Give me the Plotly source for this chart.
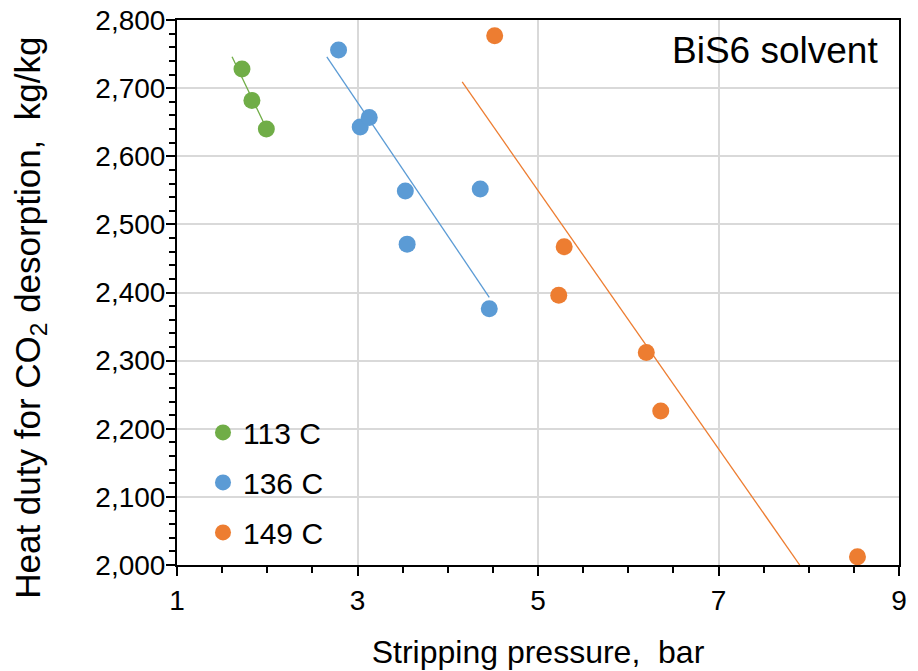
import plotly.graph_objects as go

# ---- data ----
series_names = ["113 C", "136 C", "149 C"]
colors = ["#70AD47", "#5B9BD5", "#ED7D31"]

x_113 = [1.72, 1.83, 1.99]
y_113 = [2728, 2682, 2640]

x_136 = [2.79, 3.03, 3.13, 3.53, 3.55, 4.36, 4.46]
y_136 = [2756, 2643, 2657, 2549, 2471, 2552, 2376]

x_149 = [4.52, 5.29, 5.23, 6.20, 6.36, 8.54]
y_149 = [2777, 2467, 2396, 2312, 2226, 2012]

# linear trend lines (end points)
trend_x_113 = [1.61, 1.99]
trend_y_113 = [2746, 2641]
trend_x_136 = [2.66, 4.46]
trend_y_136 = [2746, 2393]
trend_x_149 = [4.16, 7.90]
trend_y_149 = [2709, 2000]

xs = [x_113, x_136, x_149]
ys = [y_113, y_136, y_149]
txs = [trend_x_113, trend_x_136, trend_x_149]
tys = [trend_y_113, trend_y_136, trend_y_149]

FONT = "Liberation Sans, Arial, sans-serif"

fig = go.Figure()
for i in range(3):
    fig.add_trace(go.Scatter(
        x=txs[i], y=tys[i], mode="lines",
        line=dict(color=colors[i], width=1.3),
        showlegend=False, hoverinfo="skip", cliponaxis=True))
for i in range(3):
    fig.add_trace(go.Scatter(
        x=xs[i], y=ys[i], mode="markers", name=series_names[i],
        legendgroup=series_names[i],
        marker=dict(color=colors[i], size=17, line=dict(width=0))))

fig.update_layout(
    width=918, height=671,
    margin=dict(l=177, r=19, t=20, b=106),
    paper_bgcolor="white", plot_bgcolor="white",
    font=dict(family=FONT, color="black", size=28),
    showlegend=True,
    legend=dict(x=0.036, y=0.291, xanchor="left", yanchor="top",
                bgcolor="rgba(0,0,0,0)", font=dict(size=30, family=FONT),
                tracegroupgap=8, traceorder="grouped",
                itemsizing="trace"),
    annotations=[
        dict(text="BiS6 solvent", x=0.974, y=0.944,
             xref="paper", yref="paper", xanchor="right",
             yanchor="middle", showarrow=False,
             font=dict(size=37, family=FONT, color="black")),
        dict(text="Heat duty for CO<sub>2</sub> desorption,\u00a0 kg/kg",
             x=-0.204, y=0.453, xref="paper", yref="paper",
             xanchor="center", yanchor="middle", textangle=-90,
             showarrow=False,
             font=dict(size=35, family=FONT, color="black")),
    ],
)

fig.update_xaxes(
    range=[1, 9], tick0=1, dtick=2, automargin=False,
    showgrid=True, gridcolor="#D9D9D9", gridwidth=2,
    showline=True, linecolor="black", linewidth=2, mirror=True,
    ticks="outside", ticklen=9, tickwidth=2, tickcolor="black",
    minor=dict(dtick=0.5, tick0=1, ticks="outside", ticklen=6,
               tickwidth=2, tickcolor="black", showgrid=False),
    tickfont=dict(size=28, family=FONT),
    title=dict(text="Stripping pressure,\u00a0 bar",
               font=dict(size=32, family=FONT), standoff=26),
    zeroline=False,
)
fig.update_yaxes(
    range=[2000, 2800], tick0=2000, dtick=100, tickformat=",d",
    automargin=False,
    showgrid=True, gridcolor="#D9D9D9", gridwidth=2,
    showline=True, linecolor="black", linewidth=2, mirror=True,
    ticks="outside", ticklen=9, tickwidth=2, tickcolor="black",
    ticklabelstandoff=-5,
    minor=dict(dtick=20, tick0=2000, ticks="outside", ticklen=6,
               tickwidth=2, tickcolor="black", showgrid=False),
    tickfont=dict(size=28, family=FONT),
    zeroline=False,
)

fig.write_html("out.html")
